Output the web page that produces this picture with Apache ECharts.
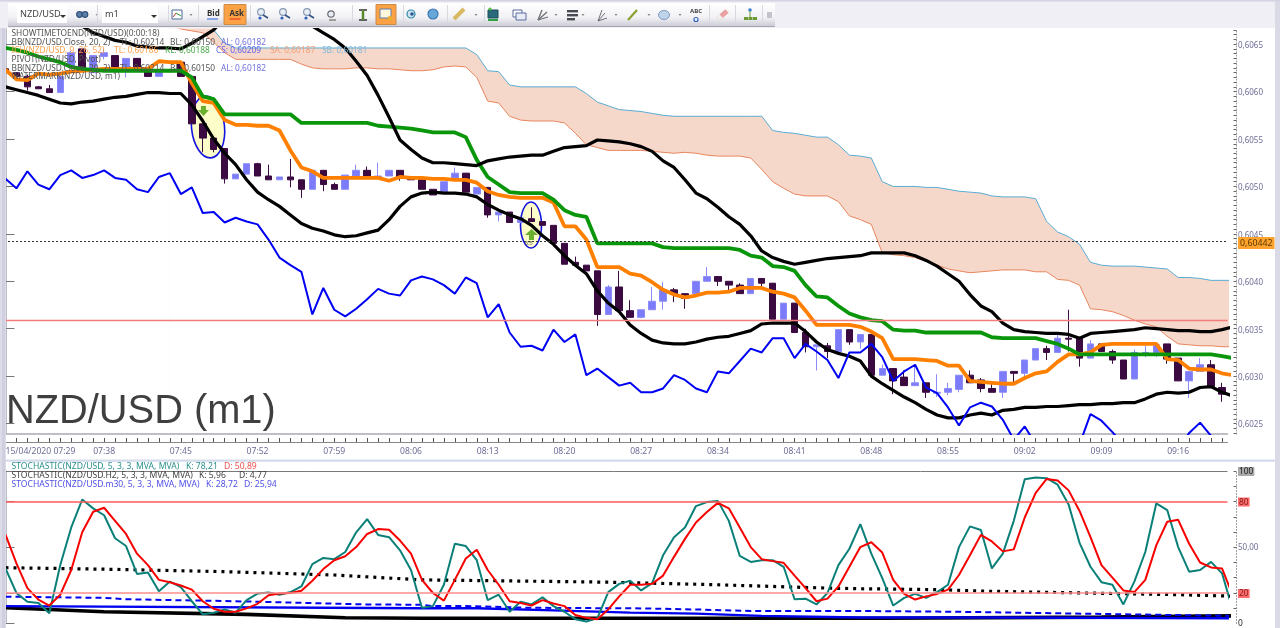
<!DOCTYPE html>
<html><head><meta charset="utf-8">
<style>html,body{margin:0;padding:0;background:#fff}#c{width:1280px;height:628px}</style>
<script src="https://cdn.jsdelivr.net/npm/echarts@6/dist/echarts.min.js"></script>
</head><body><div id="c"></div>
<script>
// All prices are in units of 0.00001
const minutes=[];for(let i=0;i<112;i++){const t=7*60+29+i;minutes.push(String(Math.floor(t/60)).padStart(2,'0')+':'+String(t%60).padStart(2,'0'));}
const priceTicks=[0.6025,0.6030,0.6035,0.6040,0.6045,0.6050,0.6055,0.6060,0.6065];
const lastPrice=0.60442, redLevel=0.60359;
const opens=[60624,60620,60616,60605,60603,60599,60626,60645,60620,60637,60638,60623,60635,60623,60616,60623,60631,60616,60566,60551,60540,60508,60513,60524,60511,60507,60510,60507,60497,60517,60502,60497,60511,60517,60510,60511,60517,60510,60507,60497,60494,60509,60514,60492,60499,60470,60473,60462,60466,60463,60459,60440,60420,60417,60411,60365,60394,60369,60362,60370,60379,60391,60387,60387,60400,60405,60400,60396,60387,60403,60398,60360,60377,60346,60331,60332,60326,60349,60336,60344,60301,60308,60299,60290,60293,60282,60283,60286,60301,60296,60287,60283,60305,60303,60317,60329,60325,60340,60340,60319,60334,60326,60317,60297,60323,60325,60334,60319,60295,60305,60312,60288];
const closes=[60620,60616,60605,60603,60599,60616,60641,60623,60638,60641,60623,60635,60623,60616,60623,60621,60616,60566,60551,60539,60508,60513,60524,60511,60507,60510,60507,60497,60517,60502,60497,60512,60517,60510,60511,60517,60510,60507,60497,60491,60505,60514,60494,60499,60470,60473,60462,60467,60463,60459,60440,60418,60417,60411,60365,60394,60369,60362,60370,60379,60391,60387,60382,60400,60405,60400,60396,60387,60403,60398,60360,60377,60346,60331,60333,60326,60349,60336,60344,60301,60308,60295,60290,60293,60283,60283,60287,60301,60293,60287,60283,60305,60303,60317,60329,60325,60340,60339,60319,60334,60326,60317,60297,60325,60325,60333,60318,60295,60305,60312,60289,60281];
const lows=[60618,60616,60601,60603,60599,60599,60626,60623,60620,60634,60623,60615,60623,60616,60616,60621,60616,60566,60536,60536,60503,60508,60513,60511,60507,60507,60499,60488,60497,60495,60497,60497,60511,60510,60510,60511,60506,60507,60497,60491,60494,60509,60494,60492,60467,60463,60462,60462,60463,60459,60440,60418,60417,60411,60353,60365,60369,60362,60361,60370,60370,60378,60371,60387,60400,60395,60390,60387,60387,60391,60360,60360,60346,60325,60306,60319,60326,60333,60329,60301,60301,60281,60290,60290,60277,60278,60280,60283,60293,60283,60283,60277,60293,60299,60317,60317,60325,60326,60310,60319,60326,60313,60297,60297,60320,60320,60313,60295,60277,60305,60289,60273];
const highs=[60626,60620,60618,60606,60607,60618,60643,60645,60638,60645,60638,60635,60635,60623,60623,60623,60631,60616,60566,60551,60540,60513,60524,60525,60523,60510,60529,60507,60517,60517,60504,60512,60523,60521,60525,60517,60517,60510,60507,60497,60505,60520,60514,60499,60499,60473,60473,60467,60478,60463,60459,60440,60426,60417,60411,60396,60411,60380,60370,60394,60399,60393,60387,60400,60415,60405,60400,60398,60403,60403,60398,60377,60377,60350,60333,60335,60349,60349,60344,60344,60312,60308,60306,60312,60293,60302,60293,60301,60306,60298,60292,60305,60305,60317,60329,60332,60345,60370,60340,60338,60334,60328,60317,60328,60332,60333,60334,60319,60305,60319,60317,60293];
const kijun=[60646,60644,60641,60637,60634,60631,60626,60624,60623,60622,60622,60622,60622,60622,60622,60622,60622,60615,60595,60592,60576,60576,60576,60576,60576,60576,60576,60567,60567,60567,60567,60567,60567,60567,60564,60563,60562,60561,60559,60557,60557,60557,60552,60528,60510,60502,60494,60493,60493,60493,60486,60475,60470,60468,60440,60440,60440,60440,60440,60440,60436,60435,60435,60435,60435,60435,60435,60433,60427,60425,60416,60415,60411,60396,60384,60383,60374,60366,60362,60359,60358,60349,60348,60348,60346,60346,60346,60346,60346,60346,60341,60340,60340,60340,60340,60337,60334,60329,60323,60323,60323,60323,60323,60323,60323,60323,60323,60323,60323,60323,60323,60321,60319];
const tenkan=[60623,60613,60612,60619,60618,60619,60621,60622,60623,60624,60624,60624,60624,60624,60632,60631,60631,60609,60590,60588,60570,60565,60565,60564,60564,60559,60538,60520,60516,60509,60509,60509,60509,60509,60509,60506,60510,60509,60509,60508,60508,60507,60507,60504,60495,60491,60489,60488,60488,60488,60483,60458,60458,60444,60415,60415,60415,60408,60406,60399,60391,60386,60383,60385,60388,60388,60389,60393,60393,60393,60389,60387,60383,60369,60354,60354,60354,60354,60352,60347,60340,60318,60318,60318,60317,60316,60311,60311,60295,60294,60293,60292,60292,60298,60303,60305,60315,60323,60323,60325,60333,60334,60334,60334,60334,60334,60318,60317,60308,60307,60307,60303,60301];
const bbLower=[60605,60602,60599,60596,60592,60588,60587,60589,60590,60592,60594,60595,60597,60599,60599,60598,60598,60586,60569,60550,60535,60523,60507,60494,60486,60479,60470,60461,60456,60453,60449,60447,60448,60451,60454,60465,60479,60489,60493,60494,60493,60493,60492,60489,60481,60475,60470,60466,60459,60448,60439,60427,60417,60408,60390,60377,60368,60354,60345,60338,60335,60334,60334,60336,60339,60341,60342,60345,60348,60355,60356,60356,60356,60347,60336,60328,60324,60321,60316,60300,60292,60285,60278,60272,60265,60259,60256,60256,60259,60261,60259,60264,60265,60267,60267,60268,60268,60269,60270,60270,60271,60271,60272,60272,60276,60281,60283,60282,60283,60288,60289,60283,60279];
const bbUpper=[null,null,null,null,null,null,60676,60669,60662,60658,60654,60652,60648,60647,60646,60646,60645,60651,60658,60665,60678,null,null,null,null,null,null,60684,60669,60662,60655,60646,60632,60617,60596,60573,60549,60539,60530,60525,60525,60524,60523,60522,60527,60529,60531,60532,60533,60533,60537,60541,60542,60543,60549,60548,60547,60545,60542,60537,60527,60520,60507,60493,60487,60478,60468,60460,60448,60432,60425,60421,60418,60420,60422,60424,60425,60426,60427,60430,60430,60430,60430,60427,60422,60416,60408,60400,60386,60374,60368,60356,60349,60347,60346,60345,60345,60344,60340,60345,60346,60347,60348,60349,60351,60350,60349,60348,60348,60347,60347,60349,60352];
const chikou=[60508,60498,60516,60502,60497,60512,60517,60509,60512,60517,60509,60507,60497,60494,60510,60514,60492,60499,60472,60473,60462,60467,60463,60460,60444,60425,60417,60410,60365,60393,60370,60363,60371,60381,60392,60387,60385,60401,60405,60402,60396,60387,60404,60398,60362,60376,60346,60331,60332,60327,60349,60336,60344,60301,60308,60299,60290,60293,60283,60283,60287,60301,60296,60287,60283,60305,60303,60316,60329,60325,60340,60340,60319,60334,60326,60317,60298,60325,60325,60334,60320,60295,60305,60312,60288,60282,60267,60248,60267,60272,60268,60254,60233,60247,60228,60222,60217,60222,60228,60260,60253,60241,60228,60222,60222,60222,60222,60222,60240,60251,60237,60228,60222];
const senkouB=[null,null,null,null,null,null,null,null,null,null,null,null,null,null,null,60686,60686,60686,60684,60665,60651,60646,60646,60646,60646,60646,60646,60646,60646,60646,60646,60646,60646,60646,60646,60646,60646,60646,60646,60646,60646,60646,60646,60639,60622,60621,60607,60605,60605,60605,60605,60605,60605,60598,60589,60585,60581,60580,60579,60577,60575,60574,60574,60574,60574,60574,60574,60574,60574,60574,60559,60557,60556,60554,60552,60552,60544,60533,60532,60530,60505,60500,60500,60500,60499,60499,60497,60495,60494,60493,60490,60489,60489,60489,60487,60463,60452,60447,60439,60420,60417,60416,60416,60416,60415,60414,60413,60404,60404,60403,60401,60401,60401];
const senkouA=[null,null,null,null,null,null,null,null,null,null,null,null,null,null,null,60670,60666,60664,60662,60652,60641,60634,60634,60634,60634,60634,60634,60629,60625,60624,60624,60624,60625,60625,60624,60624,60623,60622,60622,60623,60626,60627,60626,60615,60590,60588,60574,60570,60569,60569,60569,60567,60556,60544,60541,60538,60538,60538,60538,60537,60536,60535,60536,60535,60533,60532,60532,60532,60530,60518,60505,60498,60492,60490,60490,60490,60484,60469,60465,60460,60430,60428,60427,60425,60421,60417,60413,60411,60409,60410,60411,60412,60412,60412,60410,60410,60402,60401,60396,60371,60370,60368,60364,60359,60355,60352,60342,60334,60333,60332,60332,60331,60331];
const stochK=[36.1,20,14.2,13.5,6.7,38.3,63,81.3,75.5,71,55.9,50.8,32.5,33.5,21.1,27.5,23.9,14.6,6,7.1,9.2,7.1,15.3,19.6,20.4,18.9,20.6,24.3,38.9,43,42.2,46.9,59.8,68.4,58.1,56.6,48,35.1,10.3,11.4,25.4,52.3,50.8,41.5,15.3,18.9,7.7,14.2,12.5,17.2,11.4,7.7,2.8,1.3,3.4,20.6,26,28,21.7,26.5,44.7,56.6,63,77,79.6,80.4,67.3,44.3,40.4,41.5,41.5,37.2,15.9,16.3,12.5,20,38.3,49,65.2,45.8,29.7,11.8,16.8,19.4,16.8,20.6,25.4,50.1,63.7,61.3,36.1,45.8,67.3,94.6,95.7,95.3,91,78.1,52.9,37.2,27.1,25.4,12.5,27.5,46.9,78.7,74.4,50.1,34,35.1,40.4,32.9,8.4];
const stochD=[58.3,39.4,23.2,15.7,11.8,18.9,35.1,59.8,73.3,75.9,67.3,58.7,45.8,38.3,28.6,27.1,24.9,22.2,14.6,9.7,7.7,7.7,9.9,12.9,18.5,19.6,20,21.5,28,35.7,41.5,44.1,50.1,58.7,61.9,61.5,54.4,45.8,28.6,20,15,28.6,42.6,48.4,35.1,25.4,14.6,13.5,11.8,15.3,13.1,11.4,5.6,3.7,2.8,9.2,17.8,25.4,25.4,26,31.4,43.7,55.5,66.2,73.1,79.1,75.5,63,50.1,42.2,40.9,39.8,31.4,23.2,14.6,16.3,24.3,37.2,50.1,53.3,46.5,28.6,19.4,15.7,17.8,19.4,22.2,31.8,44.7,58.1,53.8,47.3,48.6,69.5,85.6,94.8,93.8,87.3,73.8,56.6,38.3,30.1,21.7,20.6,28.6,51.2,66.7,68,52.3,40,36.8,36.1,18];
// H2 and m30 stochastics: [minute index, value] at the points where the slow lines bend
const h2Dotted=[[0,36.6],[10,35.5],[20,34],[30,31.8],[38,28.6],[45,28],[55,27.1],[65,25.4],[75,23.2],[78,22.8],[85,22.2],[90,21.1],[100,19.8],[107,18.9],[112,17.9]];
const h2Solid=[[0,10.3],[4,9.2],[9,7.7],[22,6],[31,3.8],[38,3.4],[80,3.4],[100,4.2],[112,5]];
const m30Solid=[[0,11.4],[38,10],[43,10],[50,8.6],[57,7.1],[63,6.5],[69,5],[78,3.9],[90,3.9],[112,3.4]];
const m30Dashed=[[0,17.6],[9,16.8],[11,15.9],[21,14.6],[33,12.5],[38,12.3],[39,11.4],[42,11.4],[48,10.3],[58,9.9],[63,9.2],[68,8.2],[78,8.2],[85,7.8],[89,7.5],[94,6.9],[112,5]];

const FONT='"Noto Sans"';
const px=a=>a.map((v,i)=>[i,v==null?null:v/1e5]);
const raw=a=>a.map((v,i)=>[i,v]);
const candle=opens.map((o,i)=>[o/1e5,closes[i]/1e5,lows[i]/1e5,highs[i]/1e5]);
const labelAt=i=>i===0||(i>=9&&(i-9)%7===0);
const minorPrice=[];for(let k=60240;k<=60665;k+=5)minorPrice.push(k/1e5);
const minorStoch=[10,20,30,40,50,60,70,80,90,100];
const commonLine={type:'line',showSymbol:false,symbol:'none',silent:true,animation:false,xAxisIndex:1,yAxisIndex:0,z:3};
const stochLine={type:'line',showSymbol:false,symbol:'none',silent:true,animation:false,xAxisIndex:3,yAxisIndex:2,z:3};

const series=[
 {...commonLine,name:'SB',z:0,data:px(senkouB),lineStyle:{color:'#59acd4',width:1},areaStyle:{color:'#f6d8cb',origin:'start',opacity:1}},
 {...commonLine,name:'SA',z:0,data:px(senkouA),lineStyle:{color:'#e9855e',width:1},areaStyle:{color:'#ffffff',origin:'start',opacity:1}},
 {type:'candlestick',name:'NZD/USD',data:candle,xAxisIndex:0,yAxisIndex:0,barWidth:7,silent:true,animation:false,z:2,
  itemStyle:{color:'#7c7cfb',color0:'#3a0a40',borderColor:'#8c8cf8',borderColor0:'#3a0a40',borderWidth:1}},
 {...commonLine,name:'TL',data:px(tenkan),lineStyle:{color:'#ff8000',width:3.8},
  markLine:{silent:true,symbol:'none',animation:false,precision:6,label:{show:false},data:[
    {yAxis:lastPrice,lineStyle:{color:'#333',type:[2,2],width:1}},
    {yAxis:redLevel,lineStyle:{color:'#f27c7c',type:'solid',width:1.4}}]}},
 {...commonLine,name:'KL',data:px(kijun),lineStyle:{color:'#0a960a',width:3.8}},
 {...commonLine,name:'BB up',data:px(bbUpper),lineStyle:{color:'#000',width:3.2}},
 {...commonLine,name:'BB low',data:px(bbLower),lineStyle:{color:'#000',width:3.2}},
 {...commonLine,name:'CS',data:px(chikou),lineStyle:{color:'#0000f5',width:2}},
 {...stochLine,name:'H2 K',data:h2Solid,lineStyle:{color:'#000',width:3.6},
  markLine:{silent:true,symbol:'none',animation:false,label:{show:false},data:[
   {yAxis:80,lineStyle:{color:'#ff5a5a',type:'solid',width:1.6}},
   {yAxis:20,lineStyle:{color:'#ff8c8c',type:'solid',width:1.6}},
   {yAxis:100,lineStyle:{color:'#7a7a7a',type:'solid',width:1}}]}},
 {...stochLine,name:'H2 D',data:h2Dotted,lineStyle:{color:'#000',width:3.2,type:[3,5]}},
 {...stochLine,name:'m30 D',data:m30Dashed,lineStyle:{color:'#0000f0',width:2,type:[6,4]}},
 {...stochLine,name:'m30 K',data:m30Solid,lineStyle:{color:'#0000f0',width:2.4}},
 {...stochLine,name:'K',data:raw(stochK),lineStyle:{color:'#0a8078',width:2}},
 {...stochLine,name:'D',data:raw(stochD),lineStyle:{color:'#f80000',width:2}}
];

const gfxAxisColor='#a9a9b4';
const lab={fontFamily:FONT,fontSize:8,color:'#6d6d98'};
const xAxis=[
 {type:'category',gridIndex:0,data:minutes,boundaryGap:true,
  axisLine:{lineStyle:{color:gfxAxisColor,width:1.5}},
  axisTick:{alignWithLabel:true,length:6,inside:false,interval:(i)=>labelAt(i),lineStyle:{color:'#777'}},
  axisLabel:{...lab,fontSize:8.6,interval:(i)=>labelAt(i),alignMinLabel:'left',margin:13,showMinLabel:true,
    formatter:(v,i)=>i===0?'15/04/2020 '+v:v}},
 {type:'value',gridIndex:0,min:-0.5,max:111.5,show:false},
 {type:'category',gridIndex:0,data:minutes,boundaryGap:true,offset:8,position:'bottom',
  axisLine:{show:true,lineStyle:{color:'#888',width:1}},
  axisTick:{show:true,alignWithLabel:true,inside:true,length:4,interval:0,lineStyle:{color:'#555'}},
  axisLabel:{show:false}},
 {type:'value',gridIndex:1,min:-0.5,max:111.5,show:false}
];
const yAxis=[
 {type:'value',gridIndex:0,position:'right',min:0.60239,max:0.60666,scale:true,splitLine:{show:false},
  axisLine:{show:true,lineStyle:{color:gfxAxisColor,width:1.5}},
  axisTick:{show:true,length:9,customValues:priceTicks,lineStyle:{color:'#777'}},
  axisLabel:{...lab,margin:10.5,padding:[3,0,0,0],customValues:priceTicks.concat([lastPrice]),
    formatter:v=>Math.abs(v-lastPrice)<1e-7?'{cur|0,60442}':v.toFixed(4).replace('.',','),
    rich:{cur:{backgroundColor:'#ffa32e',color:'#5a3a00',fontSize:8.8,fontFamily:FONT,padding:[2,2,1,2]}}}},
 {type:'value',gridIndex:0,position:'right',offset:9,min:0.60239,max:0.60666,scale:true,splitLine:{show:false},
  axisLine:{show:true,lineStyle:{color:'#9a9a9a',width:1,type:[1,2]}},
  axisTick:{show:true,inside:true,length:3,customValues:minorPrice,lineStyle:{color:'#666'}},
  axisLabel:{show:false}},
 {type:'value',gridIndex:1,position:'right',min:0,max:100,interval:20,splitLine:{show:false},
  axisLine:{show:true,lineStyle:{color:gfxAxisColor,width:1.5}},
  axisTick:{show:true,length:9,customValues:[0,20,50,80,100],lineStyle:{color:'#777'}},
  axisLabel:{...lab,margin:10.5,padding:[1,0,0,0],customValues:[0,20,50,80,100],
    formatter:v=>v===100?'{g|100}':v===80?'{r|80}':v===20?'{r|20}':v===50?'50,00':'{k|0}',
    rich:{g:{backgroundColor:'#a8a8a8',color:'#222',fontSize:8.4,fontFamily:FONT,padding:[1,1,0,1]},
          r:{backgroundColor:'#ff6a6a',color:'#802020',fontSize:8.4,fontFamily:FONT,padding:[1,1,0,1]},
          k:{color:'#222',fontSize:8.4,fontFamily:FONT}}}},
 {type:'value',gridIndex:1,position:'right',offset:9,min:0,max:100,interval:20,splitLine:{show:false},
  axisLine:{show:true,lineStyle:{color:'#9a9a9a',width:1,type:[1,2]}},
  axisTick:{show:true,inside:true,length:3,customValues:minorStoch,lineStyle:{color:'#666'}},
  axisLabel:{show:false}}
];

// page furniture
const T=(x,y,text,color,size=8.35,font)=>({type:'text',x,y,z:20,silent:true,style:{text,fill:color,font:(font||(size+'px '+FONT)),textVerticalAlign:'middle'}});
const R=(x,y,w,h,fill,z=15,stroke)=>({type:'rect',z,silent:true,shape:{x,y,width:w,height:h},style:{fill,stroke:stroke||null}});
const L=(x1,y1,x2,y2,stroke,w=1.5)=>({type:'line',z:18,silent:true,shape:{x1,y1,x2,y2},style:{stroke,lineWidth:w}});
const C=(cx,cy,r,fill,stroke,w=1.2)=>({type:'circle',z:18,silent:true,shape:{cx,cy,r},style:{fill:fill||'none',stroke:stroke||null,lineWidth:w}});
const toolbarFill={type:'linear',x:0,y:0,x2:0,y2:1,colorStops:[{offset:0,color:'#ffffff'},{offset:.6,color:'#f2f2f6'},{offset:1,color:'#c8c8d2'}]};
const mag=(x)=>[C(x-1,12,3.4,'#e8eef6','#8a9ab0'),L(x+1,15,x+6,18,'#305080',1.6),C(x-2,18,1.6,'#2a60c0')];
const seps=[97,168,198,250,352,403,447,484,709,735,762];
const gfx=[
 R(0,0,6,628,'#dcdce8',15),R(2,28,3,600,'#cfcfe0',16),
 R(0,0,1280,28,'#efeff5',15),R(0,0,1280,1.5,'#d2d2e2',16),
 R(1275,0,5,628,'#dadae6',15),
 R(8,3,767,24,toolbarFill,16),R(8,26,767,1,'#a6a6b0',17),
 R(17,5,50,18,'#fff',17),R(102,5,56,18,'#fff',17),
 R(224,4.5,22,20,'#fca245',17,'#c98a4a'),R(376,4.5,20,20,'#fca245',17,'#c98a4a'),
 T(20,14.5,'NZD/USD','#444',9.2),T(105,14.5,'m1','#444',9.2),
 T(207,13.5,'Bid','#333',8,'bold 8px '+FONT),R(207,18.5,11,1,'#2a60e0',18),
 T(229.5,13.5,'Ask','#333',8,'bold 8px '+FONT),R(229.5,18.5,11,1,'#e03020',18),
 ...[[63,15],[154,15]].map(p=>({type:'polygon',z:18,silent:true,shape:{points:[[p[0]-3,p[1]],[p[0]+3,p[1]],[p[0],p[1]+3]]},style:{fill:'#333'}})),
 ...[97,191,476,556,583,616,649,680].map(x=>({type:'polygon',z:18,silent:true,shape:{points:[[x-1.5,14],[x+1.5,14],[x,16]]},style:{fill:'#888'}})),
 // toolbar glyphs
 C(79.5,14.5,2.8,'#5a7ea8','#34507a'),C(85,14.5,2.8,'#5a7ea8','#34507a'),
 R(172,10,10,9,'#fff',18,'#4a6a98'),L(173,17,176,13,'#c83030',1),L(176,13,181,16,'#30a030',1),
 ...mag(262),...mag(284),...mag(308),
 C(331,14,3.2,'#e8eef6','#6a6a70'),L(329,20,336,20,'#555',1),
 L(359,10,367,10,'#333',1.5),L(359,20,367,20,'#333',1.5),L(363,10,363,20,'#5a8a30',2.5),
 R(380,9,11,9,'#fff7dc',18,'#5a7fb0'),C(390,18,2.2,'#e8b030'),
 C(411,14,4,'#cfe4f0','#2a8aa8'),C(412,14,1.8,'#2a5a90'),
 C(433,14,5,'#68a8d8','#3a78b0'),
 L(454,19,464,9,'#d8b860',4),
 R(488,10,10,8,'#2a6a7a',18,'#1a4a5a'),C(490,9,1.6,'#50c040'),L(488,20,498,20,'#30a040',2),
 R(513,10,9,7,'#fff',18,'#5a6aa0'),R(516,13,10,7,'#e8ecf6',18,'#5a6aa0'),
 L(538,20,542,10,'#707078',1.3),L(538,20,547,12,'#707078',1.3),L(538,20,548,17,'#707078',1.3),
 R(567,10,11,2.4,'#4a4a52',18),R(567,14,11,2.4,'#4a4a52',18),R(567,18,8,2.4,'#4a4a52',18),
 L(598,21,602,10,'#707078',1),L(598,21,605,13,'#707078',1),L(598,21,607,18,'#707078',1),
 L(628,20,637,10,'#8aa030',2.2),
 {type:'ellipse',z:18,silent:true,shape:{cx:664,cy:15,rx:5.5,ry:4.5},style:{fill:'#c0d4ea',stroke:'#7a9cc4'}},
 T(690,11.5,'ABC','#444',6,'bold 6px '+FONT),C(696,19.5,2,'#fff','#2a60c0'),
 L(718,19,727,11,'#e8a0a0',5),L(718,19,721,16,'#f0f0f0',5),
 C(750,10,1.8,'#3a80d0'),R(744,17,4,3,'#6a9a30',18),R(748.5,17,4,3,'#6a9a30',18),R(753,17,4,3,'#6a9a30',18),L(750,11,750,17,'#6a9a30',1),
 R(767,12,5,6,'#c4c4cc',18),
 ...seps.map(x=>R(x,5,1,20,'#d8d8e0',18)),
 R(6,459.5,1269,2.2,'#d3dbea',14),
 {type:'ellipse',z:1,silent:true,shape:{cx:208,cy:127,rx:16.5,ry:31},rotation:0.1,originX:208,originY:127,style:{fill:'#fdfdc9',stroke:'#1414e0',lineWidth:1.6}},
 {type:'ellipse',z:1,silent:true,shape:{cx:531,cy:225,rx:10.5,ry:23},style:{fill:'#fdfdc9',stroke:'#1414e0',lineWidth:1.6}},
 {type:'polygon',z:5,silent:true,shape:{points:[[201,106],[206,106],[206,110],[209,110],[203.5,116],[198,110],[201,110]]},style:{fill:'#6cb030'}},
 {type:'polygon',z:5,silent:true,shape:{points:[[529,240],[534,240],[534,235],[538,235],[531.5,229],[525,235],[529,235]]},style:{fill:'#6cb030'}},
 T(525,243,'6:5','#555',5.5),
 T(6,412.5,'NZD/USD (m1)','#3f3f3f',39.8,'39.8px "Liberation Sans"'),
 T(11.5,34,'SHOWTIMETOEND(NZD/USD)(0:00:18)','#555'),
 T(11.5,42.8,'BB(NZD/USD.Close, 20, 2)','#555'),T(120,42.8,'TL: 0,60214','#555'),T(170,42.8,'BL: 0,60150','#555'),T(221,42.8,'AL: 0,60182','#7070e0'),
 T(11.5,51,'ICH(NZD/USD, 9, 26, 52)','#ffa04a'),T(114,51,'TL: 0,60186','#ffa04a'),T(165,51,'KL: 0,60188','#4aa84a'),T(216,51,'CS: 0,60209','#6060e8'),T(270,51,'SA: 0,60187','#f0a078'),T(322,51,'SB: 0,60181','#80b8dc'),
 T(11.5,60,'PIVOT(NZD/USD, Pivot)','#555'),
 T(11.5,68.4,'BB(NZD/USD.Close, 20, 2)','#555'),T(120,68.4,'TL: 0,60214','#555'),T(170,68.4,'BL: 0,60150','#555'),T(221,68.4,'AL: 0,60182','#7070e0'),
 T(11.5,77,'WATERMARK(NZD/USD, m1)','#555'),
 T(11.5,467,'STOCHASTIC(NZD/USD, 5, 3, 3, MVA, MVA)','#2a908a',8.6),T(186,467,'K: 78,21','#2a908a',8.6),T(224,467,'D: 50,89','#f05050',8.6),
 T(11.5,475.8,'STOCHASTIC(NZD/USD.H2, 5, 3, 3, MVA, MVA)','#444',8.6),T(199,475.8,'K: 5,96','#444',8.6),T(239,475.8,'D: 4,77','#444',8.6),
 T(11.5,484.4,'STOCHASTIC(NZD/USD.m30, 5, 3, 3, MVA, MVA)','#5050e8',8.6),T(206,484.4,'K: 28,72','#5050e8',8.6),T(244,484.4,'D: 25,94','#5050e8',8.6)
];

const chart=echarts.init(document.getElementById('c'),null,{renderer:'canvas'});
chart.setOption({animation:false,backgroundColor:'#fff',
 grid:[{left:0,width:1227.5,top:29,height:405,containLabel:false},{left:0,width:1227.5,top:471,height:155,containLabel:false}],
 xAxis,yAxis,series,graphic:{elements:gfx}});
</script></body></html>
